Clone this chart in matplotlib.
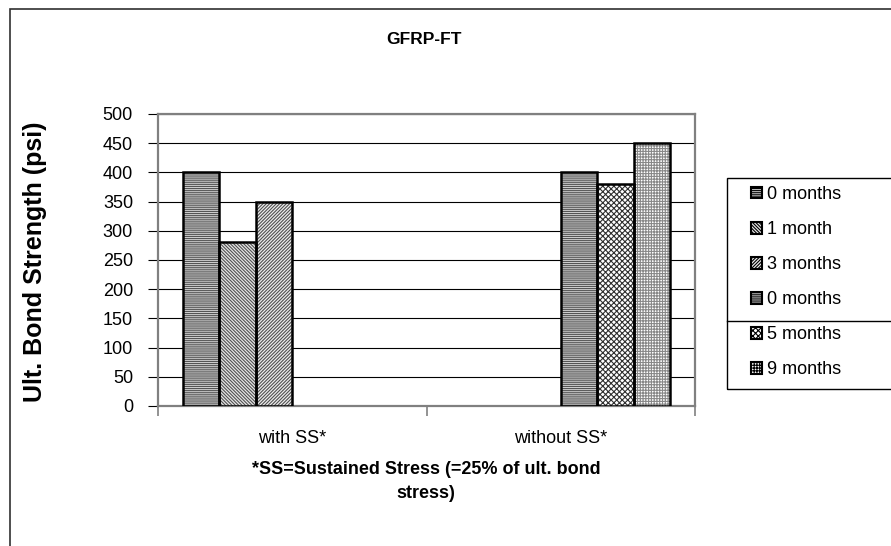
import numpy as np
import matplotlib
matplotlib.use("Agg")
import matplotlib.pyplot as plt
from matplotlib.patches import Rectangle, Patch
from matplotlib.lines import Line2D

plt.rcParams["font.family"] = ["Liberation Sans", "DejaVu Sans"]
plt.rcParams["hatch.linewidth"] = 0.8

# Data
categories = ["with SS*", "without SS*"]
series_names = ["0 months", "1 month", "3 months", "0 months", "5 months", "9 months"]
series_values = [
    [400, np.nan],
    [280, np.nan],
    [350, np.nan],
    [np.nan, 400],
    [np.nan, 380],
    [np.nan, 450],
]
y_ticks = [0, 50, 100, 150, 200, 250, 300, 350, 400, 450, 500]

# Fill pattern per series: (hatch, hatch colour, background)
patterns = [
    ("--------", "#555555", "#d0d0d0"),
    ("\\\\\\\\\\\\\\\\\\\\", "#505050", "#e6e6e6"),
    ("//////////", "#505050", "#eeeeee"),
    ("--------", "#555555", "#d0d0d0"),
    ("xxxxxx", "#303030", "#ffffff"),
    ("++++++", "#888888", "#ffffff"),
]

W, H = 891, 546
fig = plt.figure(figsize=(W / 100, H / 100), dpi=100)
ax = fig.add_axes([158 / W, 1 - 406 / H, (695 - 158) / W, (406 - 114) / H])

n = len(series_names)
bw = 0.1357
x = np.arange(len(categories))
handles = []
for i, (name, vals) in enumerate(zip(series_names, series_values)):
    hatch, hcol, face = patterns[i]
    pos = x + (i - (n - 1) / 2) * bw
    # patterned fill (hatch takes the edge colour), then a black outline on top
    ax.bar(pos, vals, width=bw, facecolor=face, edgecolor=hcol, hatch=hatch,
           linewidth=0, zorder=3)
    ax.bar(pos, vals, width=bw, fill=False, edgecolor="black", linewidth=1.8, zorder=4)
    handles.append(Patch(facecolor=face, edgecolor="black", hatch=hatch,
                         linewidth=1.5, label=name))

ax.set_xlim(-0.5, len(categories) - 0.5)
ax.set_ylim(0, 500)
ax.set_yticks(y_ticks)
ax.set_yticklabels([str(v) for v in y_ticks], fontsize=13)
ax.yaxis.grid(True, color="black", linewidth=0.8, zorder=0)
ax.set_axisbelow(True)

ax.set_xticks(x)
ax.set_xticklabels(categories, fontsize=13)
ax.tick_params(axis="x", which="major", length=0, pad=17)
ax.set_xticks(np.arange(-0.5, len(categories)), minor=True)
ax.tick_params(axis="x", which="minor", length=7, color="#808080", width=1.2)
ax.tick_params(axis="y", length=7, width=0.8, color="black", pad=11)

for side in ["top", "right", "left", "bottom"]:
    ax.spines[side].set_color("#808080")
    ax.spines[side].set_linewidth(1.6)

# Title, axis label and footnote
fig.text(424 / W, 1 - 40 / H, "GFRP-FT", ha="center", va="center",
         fontsize=12.5, fontweight="bold")
fig.text(35 / W, 1 - 262 / H, "Ult. Bond Strength (psi)", rotation=90,
         ha="center", va="center", fontsize=18, fontweight="bold")
fig.text(426 / W, 1 - 461 / H, "*SS=Sustained Stress (=25% of ult. bond\nstress)",
         ha="center", va="top", fontsize=13, fontweight="bold", linespacing=1.5)

# Legend with its own box
fig.add_artist(Rectangle((727 / W, 1 - 389 / H), 0.3, (389 - 178) / H,
                         transform=fig.transFigure, fill=False,
                         edgecolor="black", linewidth=1.0))
fig.add_artist(Line2D([727 / W, 1.0], [1 - 321 / H, 1 - 321 / H],
                      transform=fig.transFigure, color="black", linewidth=1.0))
fig.legend(handles=handles, loc="upper left", bbox_to_anchor=(751 / W, 1 - 186 / H),
           frameon=False, fontsize=13, handlelength=0.62, handleheight=0.62,
           handletextpad=0.25, labelspacing=1.0, borderpad=0, borderaxespad=0)

# Outer chart border
fig.add_artist(Rectangle((10 / W, -0.1), 1.2, 1.1 - 9 / H, transform=fig.transFigure,
                         fill=False, edgecolor="#303030", linewidth=1.2))

fig.savefig("out.png", dpi=100)
